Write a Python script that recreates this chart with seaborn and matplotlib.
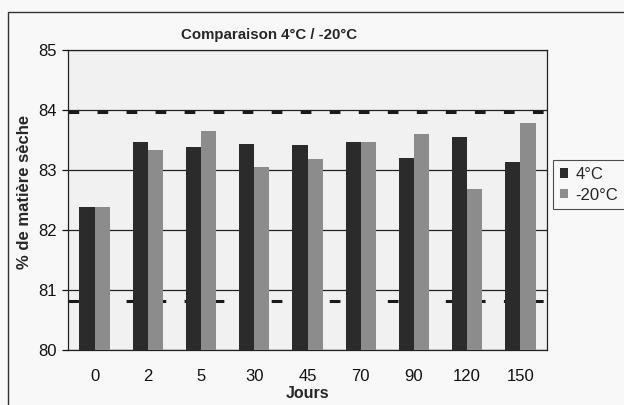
import matplotlib
matplotlib.use("Agg")
import matplotlib.pyplot as plt
import seaborn as sns
import pandas as pd
from matplotlib.patches import Rectangle

days = ["0", "2", "5", "30", "45", "70", "90", "120", "150"]
vals_4c = [82.38, 83.46, 83.39, 83.43, 83.42, 83.47, 83.20, 83.55, 83.14]
vals_m20 = [82.38, 83.33, 83.65, 83.05, 83.18, 83.47, 83.60, 82.69, 83.79]
series = ["4°C", "-20°C"]
ref_lines = [83.97, 80.81]

df = pd.DataFrame({
    "Jours": days * 2,
    "val": vals_4c + vals_m20,
    "serie": [series[0]] * len(days) + [series[1]] * len(days),
})

sns.set_theme(style="white")
plt.rcParams["font.family"] = ["Liberation Sans", "DejaVu Sans"]

fig = plt.figure(figsize=(6.24, 4.05), dpi=100, facecolor="#f8f8f8")
ax = fig.add_axes([68/624, 55/405, (547-68)/624, 300/405])
ax.set_facecolor("#f1f1f1")

sns.barplot(data=df, x="Jours", y="val", hue="serie", order=days,
            hue_order=series, palette=["#2b2b2b", "#8c8c8c"],
            width=0.57, gap=0, ax=ax, zorder=3, linewidth=0, saturation=1)

for y in ref_lines:
    ax.axhline(y, color="#1a1a1a", lw=2.2, ls=(0, (3.5, 6)), zorder=2)

ax.set_ylim(80, 85)
ax.set_yticks([80, 81, 82, 83, 84, 85])
ax.set_xlim(-0.5, len(days) - 0.5)
ax.yaxis.grid(True, color="#222222", lw=0.9, zorder=1)
ax.set_axisbelow(True)
for s in ax.spines.values():
    s.set_color("#222222")
    s.set_linewidth(0.9)

ax.tick_params(axis="both", labelsize=12, colors="#111111", length=4,
               width=0.9, direction="out")
ax.tick_params(axis="y", pad=4)
ax.tick_params(axis="x", length=0, pad=14)
# ticks between categories
ax.set_xticks([i + 0.5 for i in range(-1, len(days))], minor=True)
ax.tick_params(axis="x", which="minor", length=4, width=0.9, color="#222222")
ax.tick_params(axis="y", left=True)

ax.set_xlabel("Jours", fontsize=11.5, fontweight="bold", labelpad=1)
ax.set_ylabel("% de matière sèche", fontsize=12, fontweight="bold")
ax.yaxis.set_label_coords((32 - 68) / 479, 1 - (192 - 50) / 300)
ax.set_title("Comparaison 4°C / -20°C", fontsize=10.8, fontweight="bold",
             pad=8, x=(269 - 68) / 479)

leg = ax.legend(loc="upper left",
                bbox_to_anchor=((553-68)/479, 1 - (160-50)/300),
                frameon=True, fontsize=12, handlelength=0.5, handleheight=0.5,
                handletextpad=0.45, borderpad=0.4, labelspacing=0.35,
                borderaxespad=0, fancybox=False)
leg.get_frame().set_edgecolor("#222222")
leg.get_frame().set_linewidth(0.8)
leg.get_frame().set_facecolor("#f8f8f8")

fig.patches.append(Rectangle((8/624, -0.1), 1.2, (405-12)/405 + 0.1,
                             transform=fig.transFigure, fill=False,
                             edgecolor="#333333", lw=1.0))

fig.savefig("out.png", dpi=100, facecolor=fig.get_facecolor())
